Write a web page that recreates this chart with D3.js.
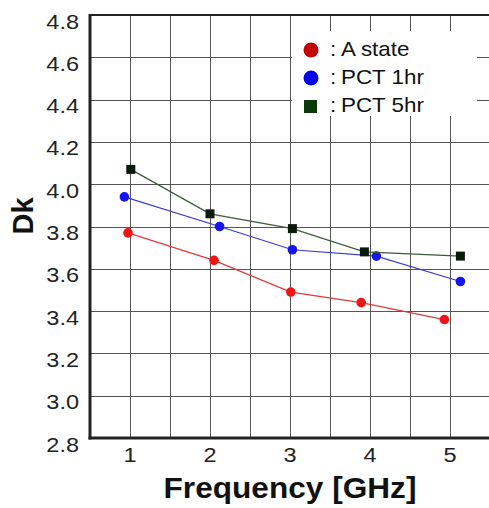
<!DOCTYPE html>
<html>
<head>
<meta charset="utf-8">
<script src="https://cdn.jsdelivr.net/npm/d3@7"></script>
<style>
  body { margin: 0; background: #fff; }
  svg { display: block; font-family: "Liberation Sans", Arial, sans-serif; }
</style>
</head>
<body>
<div></div>
<script>
const width = 489, height = 508;

// values
const seriesNames = ["A state", "PCT 1hr", "PCT 5hr"];
const freqA = [0.975, 2.05, 3.01, 3.89, 4.93];
const dkA = [3.77, 3.64, 3.49, 3.44, 3.36];
const freq1 = [0.93, 2.12, 3.03, 4.08, 5.13];
const dk1 = [3.94, 3.80, 3.69, 3.66, 3.54];
const freq5 = [1.01, 2.00, 3.03, 3.93, 5.13];
const dk5 = [4.07, 3.86, 3.79, 3.68, 3.66];
const xTicks = [1, 2, 3, 4, 5];
const yTicks = [2.8, 3.0, 3.2, 3.4, 3.6, 3.8, 4.0, 4.2, 4.4, 4.6, 4.8];

const series = [
    {name: seriesNames[0], x: freqA, y: dkA, shape: "circle", fill: "#ee1515", line: "#e03a3a", key: "#c40000"},
    {name: seriesNames[1], x: freq1, y: dk1, shape: "circle", fill: "#1515f0", line: "#3a3ad0", key: "#0000ee"},
    {name: seriesNames[2], x: freq5, y: dk5, shape: "square", fill: "#0a1a0a", line: "#3d5a3d", key: "#0a3a0a"}
];

const x = d3.scaleLinear().domain([0.5, 5.5]).range([90, 490]);
const y = d3.scaleLinear().domain([2.8, 4.8]).range([438, 15]);
const sx = 1.12; // text in the picture is a bit wide

const svg = d3.create("svg")
    .attr("width", width)
    .attr("height", height)
    .attr("viewBox", [0, 0, width, height]);

// grid
const grid = svg.append("g").attr("stroke", "#555").attr("stroke-width", 1);
grid.selectAll("line.v")
    .data(d3.range(1, 5.01, 0.5))
    .join("line")
    .attr("class", "v")
    .attr("x1", d => x(d) + 0.5).attr("x2", d => x(d) + 0.5)
    .attr("y1", y(4.8)).attr("y2", y(2.8));
grid.selectAll("line.h")
    .data(yTicks.slice(1, -1))
    .join("line")
    .attr("class", "h")
    .attr("x1", x(0.5)).attr("x2", x(5.5))
    .attr("y1", d => Math.round(y(d)) + 0.5).attr("y2", d => Math.round(y(d)) + 0.5);

// white box behind legend
svg.append("rect")
    .attr("x", 292).attr("y", 31)
    .attr("width", 185).attr("height", 85)
    .attr("fill", "#fff");

// frame
svg.append("line")
    .attr("x1", x(0.5)).attr("x2", x(5.5))
    .attr("y1", y(4.8)).attr("y2", y(4.8))
    .attr("stroke", "#222").attr("stroke-width", 2);
svg.append("line")
    .attr("x1", x(5.5)).attr("x2", x(5.5))
    .attr("y1", y(4.8)).attr("y2", y(2.8))
    .attr("stroke", "#222").attr("stroke-width", 2);
svg.append("line")
    .attr("x1", x(0.5)).attr("x2", x(0.5))
    .attr("y1", y(4.8) - 1).attr("y2", y(2.8) + 1.5)
    .attr("stroke", "#222").attr("stroke-width", 3);
svg.append("line")
    .attr("x1", x(0.5) - 1.5).attr("x2", x(5.5))
    .attr("y1", y(2.8)).attr("y2", y(2.8))
    .attr("stroke", "#222").attr("stroke-width", 3);

// tick labels
svg.append("g")
    .selectAll("text")
    .data(yTicks)
    .join("text")
    .attr("transform", d => `translate(79,${y(d) + 13.5}) scale(${sx},1)`)
    .attr("text-anchor", "end")
    .attr("font-size", 21)
    .attr("fill", "#222")
    .text(d => d.toFixed(1));

svg.append("g")
    .selectAll("text")
    .data(xTicks)
    .join("text")
    .attr("transform", d => `translate(${x(d)},462) scale(${sx},1)`)
    .attr("text-anchor", "middle")
    .attr("font-size", 21)
    .attr("fill", "#222")
    .text(d => d);

// axis titles
svg.append("text")
    .attr("transform", `translate(290,498) scale(1.09,1)`)
    .attr("text-anchor", "middle")
    .attr("font-size", 29)
    .attr("font-weight", "bold")
    .attr("fill", "#111")
    .text("Frequency [GHz]");

svg.append("text")
    .attr("transform", "translate(33,216) rotate(-90)")
    .attr("text-anchor", "middle")
    .attr("font-size", 29)
    .attr("font-weight", "bold")
    .attr("fill", "#111")
    .text("Dk");

// series
const line = d3.line().x(d => x(d[0])).y(d => y(d[1]));

series.forEach(s => {
    const pts = d3.zip(s.x, s.y);
    svg.append("path")
        .attr("d", line(pts))
        .attr("fill", "none")
        .attr("stroke", s.line)
        .attr("stroke-width", 1.2);
    if (s.shape === "circle") {
        svg.append("g").selectAll("circle")
            .data(pts)
            .join("circle")
            .attr("cx", d => x(d[0])).attr("cy", d => y(d[1]))
            .attr("r", 4.8)
            .attr("fill", s.fill);
    } else {
        svg.append("g").selectAll("rect")
            .data(pts)
            .join("rect")
            .attr("x", d => x(d[0]) - 4.5).attr("y", d => y(d[1]) - 4.5)
            .attr("width", 9).attr("height", 9)
            .attr("fill", s.fill);
    }
});

// legend
const legend = svg.append("g")
    .selectAll("g")
    .data(series)
    .join("g")
    .attr("transform", (d, i) => `translate(311,${50 + i * 28})`);

legend.filter(d => d.shape === "circle")
    .append("circle")
    .attr("r", 7.5)
    .attr("fill", d => d.key);
legend.filter(d => d.shape === "square")
    .append("rect")
    .attr("x", -7).attr("y", -6)
    .attr("width", 13).attr("height", 13)
    .attr("fill", d => d.key);

legend.append("text")
    .attr("transform", `translate(19,6) scale(${sx},1)`)
    .attr("font-size", 20)
    .attr("fill", "#111")
    .text(":");

legend.append("text")
    .attr("transform", `translate(30,6) scale(${sx},1)`)
    .attr("font-size", 20)
    .attr("fill", "#111")
    .text(d => d.name);

d3.select("body>div").append(() => svg.node());
</script>
</body>
</html>
